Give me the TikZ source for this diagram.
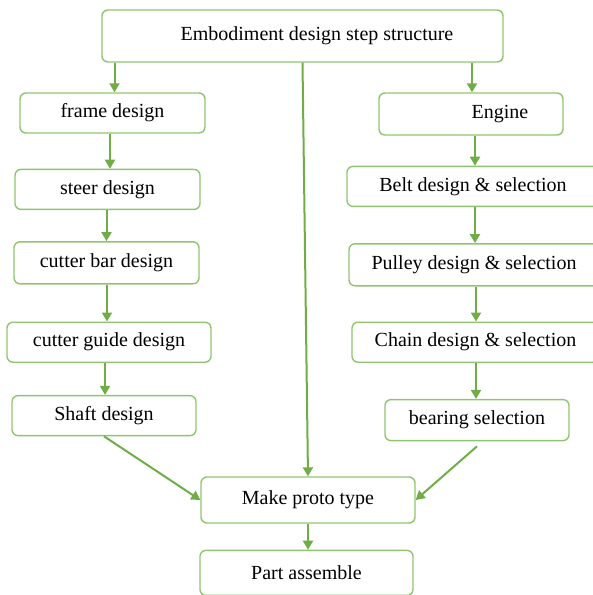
\documentclass[tikz,border=0pt]{standalone}
\usepackage{fontspec}
\setmainfont{Liberation Serif}
\usetikzlibrary{arrows.meta,positioning}
\definecolor{boxgreen}{RGB}{145,196,112}
\definecolor{arrowgreen}{RGB}{112,173,71}

\begin{document}
\begin{tikzpicture}[x=1pt,y=1pt,font=\fontsize{20}{24}\selectfont,
 box/.style={draw=boxgreen,line width=1.4pt,rounded corners=6pt,align=center,minimum height=40pt,inner sep=2pt},
 arrow/.style={-{Triangle[length=9pt,width=10pt]},draw=arrowgreen,line width=2pt}]
\useasboundingbox (0,0) rectangle (593,-595);
\node[box,minimum width=401pt,minimum height=52pt] (struct) at (302.5,-36) {\hspace*{29pt}Embodiment design step structure};
% left column
\node[box,minimum width=185pt] (frame) at (112.5,-113) {frame design};
\node[box,minimum width=185pt,below=35pt of frame,xshift=-5pt] (steer) {steer design};
\node[box,minimum width=185pt,minimum height=42pt,below=31pt of steer,xshift=-1pt] (cutbar) {cutter bar design};
\node[box,minimum width=204pt,below=37pt of cutbar,xshift=2.5pt] (guide) {cutter guide design};
\node[box,minimum width=184pt,below=32pt of guide,xshift=-5pt] (shaft) {Shaft design};
% right column
\node[box,minimum width=184pt,minimum height=42pt] (engine) at (471,-114) {\hspace*{58pt}Engine};
\node[box,minimum width=252pt,below=30pt of engine,xshift=2pt] (belt) {Belt design \& selection};
\node[box,minimum width=250pt,minimum height=42pt,below=36pt of belt,xshift=1pt] (pulley) {Pulley design \& selection};
\node[box,minimum width=247pt,below=35pt of pulley,xshift=1.5pt] (chain) {Chain design \& selection};
\node[box,minimum width=184pt,minimum height=41pt,below=36pt of chain,xshift=1.5pt] (bearing) {bearing selection};
% bottom
\node[box,minimum width=214pt,minimum height=46pt] (make) at (308,-500) {Make proto type};
\node[box,minimum width=213pt,minimum height=45pt,below=26pt of make,xshift=-1.5pt] (part) {Part assemble};

\draw[arrow] ([xshift=2pt]frame.north |- struct.south) -- ([xshift=2pt]frame.north);
\draw[arrow] ([xshift=1pt]engine.north |- struct.south) -- ([xshift=1pt]engine.north);
\draw[arrow] (struct.south) -- (make.north);
\draw[arrow] ([xshift=2.5pt]steer.north |- frame.south) -- ([xshift=2.5pt]steer.north);
\draw[arrow] (cutbar.north |- steer.south) -- (cutbar.north);
\draw[arrow] ([xshift=-2pt]guide.north |- cutbar.south) -- ([xshift=-2pt]guide.north);
\draw[arrow] ([xshift=1pt]shaft.north |- guide.south) -- ([xshift=1pt]shaft.north);
\draw[arrow] ([xshift=2pt]belt.north |- engine.south) -- ([xshift=2pt]belt.north);
\draw[arrow] ([xshift=1pt]pulley.north |- belt.south) -- ([xshift=1pt]pulley.north);
\draw[arrow] ([xshift=0.5pt]chain.north |- pulley.south) -- ([xshift=0.5pt]chain.north);
\draw[arrow] ([xshift=-1pt]bearing.north |- chain.south) -- ([xshift=-1pt]bearing.north);
\draw[arrow] (shaft.south) -- (make.west);
\draw[arrow] ([yshift=-5pt]bearing.south) -- (make.east);
\draw[arrow] (make.south) -- (make.south |- part.north);
\end{tikzpicture}
\end{document}
